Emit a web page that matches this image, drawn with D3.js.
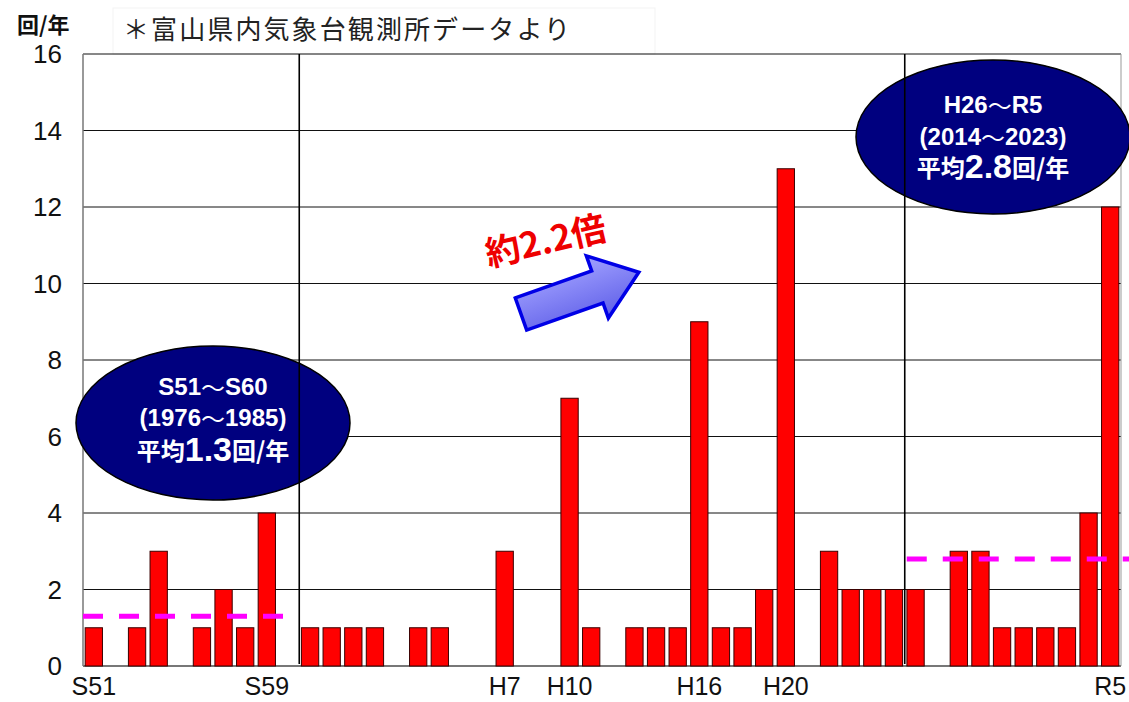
<!DOCTYPE html>
<html>
<head>
<meta charset="utf-8">
<script src="https://cdn.jsdelivr.net/npm/d3@7/dist/d3.min.js"></script>
<style>
  html, body { margin: 0; padding: 0; background: #fff; }
  svg { display: block; }
</style>
</head>
<body>
<svg id="chart" width="1129" height="702"></svg>
<script>
// Annual occurrences per year, 1976 (S51) to 2023 (R5)
const years = [
  1976, 1977, 1978, 1979, 1980, 1981, 1982, 1983, 1984, 1985,
  1986, 1987, 1988, 1989, 1990, 1991, 1992, 1993, 1994, 1995,
  1996, 1997, 1998, 1999, 2000, 2001, 2002, 2003, 2004, 2005,
  2006, 2007, 2008, 2009, 2010, 2011, 2012, 2013, 2014, 2015,
  2016, 2017, 2018, 2019, 2020, 2021, 2022, 2023
];
const counts = [
  1, 0, 1, 3, 0, 1, 2, 1, 4, 0,
  1, 1, 1, 1, 0, 1, 1, 0, 0, 3,
  0, 0, 7, 1, 0, 1, 1, 1, 9, 1,
  1, 2, 13, 0, 3, 2, 2, 2, 2, 0,
  3, 3, 1, 1, 1, 1, 4, 12
];

// x-axis labels (Japanese era years)
const tickYears  = [1976, 1984, 1995, 1998, 2004, 2008, 2023];
const tickLabels = ["S51", "S59", "H7", "H10", "H16", "H20", "R5"];

// y-axis ticks
const yTicks = [0, 2, 4, 6, 8, 10, 12, 14, 16];

// Ten-year comparison periods and their averages
const periodStart = [1976, 2014];
const periodEnd   = [1985, 2023];
const periodAvg   = [1.3, 2.8];
const periodEra   = [["S51", "S60"], ["H26", "R5"]];

const ratioLabel = "約2.2倍";
const unitLabel = "回/年";
const sourceNote = "＊富山県内気象台観測所データより";

const svg = d3.select("#chart");
const plotL = 83, plotR = 1121, plotT = 54, plotB = 666;

const x = d3.scaleBand()
  .domain(years)
  .range([plotL, plotR])
  .paddingInner(0.2)
  .paddingOuter(0.1);
const y = d3.scaleLinear().domain([0, 16]).range([plotB, plotT]);

const bandStart = yr => x(yr) - x.step() * x.paddingInner() / 2;
const bandEnd = yr => bandStart(yr) + x.step();

const latin = "'Liberation Sans', Arial, sans-serif";
const cjk = "'Noto Sans CJK JP', 'Noto Sans', sans-serif";

// faint frame behind the source note
svg.append("rect")
  .attr("x", 113).attr("y", 8).attr("width", 542).attr("height", 46)
  .attr("fill", "none").attr("stroke", "#f3f3f3").attr("stroke-width", 1);

// horizontal gridlines
svg.append("g").selectAll("line")
  .data(yTicks.filter(d => d > 0))
  .join("line")
  .attr("x1", plotL).attr("x2", plotR)
  .attr("y1", d => y(d)).attr("y2", d => y(d))
  .attr("stroke", "#111").attr("stroke-width", 1);

// plot frame: left, right, bottom
svg.append("line").attr("x1", plotL).attr("x2", plotL).attr("y1", plotT).attr("y2", plotB)
  .attr("stroke", "#777").attr("stroke-width", 1.5);
svg.append("line").attr("x1", plotR).attr("x2", plotR).attr("y1", plotT).attr("y2", plotB)
  .attr("stroke", "#999").attr("stroke-width", 1);
svg.append("line").attr("x1", plotL).attr("x2", plotR).attr("y1", plotB).attr("y2", plotB)
  .attr("stroke", "#777").attr("stroke-width", 2);

// y tick labels
svg.append("g").selectAll("text")
  .data(yTicks)
  .join("text")
  .attr("x", 62)
  .attr("y", d => y(d) + 9)
  .attr("text-anchor", "end")
  .attr("font-family", latin)
  .attr("font-size", 26)
  .attr("fill", "#111")
  .text(d => d);

// x tick labels
svg.append("g").selectAll("text")
  .data(tickYears)
  .join("text")
  .attr("x", d => x(d) + x.bandwidth() / 2)
  .attr("y", 695)
  .attr("text-anchor", "middle")
  .attr("font-family", latin)
  .attr("font-size", 25)
  .attr("fill", "#111")
  .text((d, i) => tickLabels[i]);

// bars
svg.append("g").selectAll("rect")
  .data(years.map((yr, i) => ({ yr, v: counts[i] })).filter(d => d.v > 0))
  .join("rect")
  .attr("x", d => x(d.yr))
  .attr("y", d => y(d.v))
  .attr("width", x.bandwidth())
  .attr("height", d => y(0) - y(d.v))
  .attr("fill", "#ff0000")
  .attr("stroke", "#3a0000")
  .attr("stroke-width", 1);

// period average lines
const avgEnds = [bandEnd(periodEnd[0]), plotR + 8];
svg.append("g").selectAll("line")
  .data(periodAvg)
  .join("line")
  .attr("x1", (d, i) => bandStart(periodStart[i]) + (i === 0 ? 0 : 2))
  .attr("x2", (d, i) => avgEnds[i])
  .attr("y1", d => y(d)).attr("y2", d => y(d))
  .attr("stroke", "#ff00ff")
  .attr("stroke-width", 5)
  .attr("stroke-dasharray", "20,16");

// period ellipses
const ellipses = [
  { cx: 213, cy: 423, lineY: [386, 417, 449] },
  { cx: 993, cy: 137, lineY: [104, 136, 166] }
];
const rangeLine = (txt, a, b) => {
  txt.append("tspan").attr("font-family", latin).text(a);
  txt.append("tspan").attr("font-family", cjk).attr("font-weight", "normal").text("～");
  txt.append("tspan").attr("font-family", latin).text(b);
};
ellipses.forEach((e, i) => {
  svg.append("ellipse")
    .attr("cx", e.cx).attr("cy", e.cy)
    .attr("rx", 137).attr("ry", 77)
    .attr("fill", "#00007f")
    .attr("stroke", "#000")
    .attr("stroke-width", 1.5);
  const g = svg.append("g")
    .attr("fill", "#fff")
    .attr("font-weight", "bold")
    .attr("font-size", 24)
    .attr("text-anchor", "middle");
  const t1 = g.append("text")
    .attr("x", e.cx).attr("y", e.lineY[0])
    .attr("dominant-baseline", "central");
  rangeLine(t1, periodEra[i][0], periodEra[i][1]);
  const t2 = g.append("text")
    .attr("x", e.cx).attr("y", e.lineY[1])
    .attr("dominant-baseline", "central");
  rangeLine(t2, "(" + periodStart[i], periodEnd[i] + ")");
  const t3 = g.append("text")
    .attr("x", e.cx).attr("y", e.lineY[2])
    .attr("dominant-baseline", "central")
    .attr("font-family", cjk);
  t3.append("tspan").text("平均");
  t3.append("tspan").attr("font-family", latin).attr("font-size", 34).text(periodAvg[i].toFixed(1));
  t3.append("tspan").text("回/年");
});

// period separators
svg.append("g").selectAll("line")
  .data([periodEnd[0] + 1, periodStart[1]])
  .join("line")
  .attr("x1", d => bandStart(d)).attr("x2", d => bandStart(d))
  .attr("y1", plotT).attr("y2", plotB - 2)
  .attr("stroke", "#000").attr("stroke-width", 1.6);

// trend arrow
const arrowLen = 125, shaftHalf = 17, headHalf = 33, headLen = 44;
const arrowPts = [
  [0, -shaftHalf], [arrowLen - headLen, -shaftHalf], [arrowLen - headLen, -headHalf],
  [arrowLen, 0],
  [arrowLen - headLen, headHalf], [arrowLen - headLen, shaftHalf], [0, shaftHalf]
];
const grad = svg.append("defs").append("linearGradient")
  .attr("id", "arrowFill").attr("x1", 0).attr("y1", 0).attr("x2", 0).attr("y2", 1);
grad.append("stop").attr("offset", 0).attr("stop-color", "#a0a0ff");
grad.append("stop").attr("offset", 1).attr("stop-color", "#6060e8");
svg.append("path")
  .attr("d", d3.line()(arrowPts) + "Z")
  .attr("transform", "translate(521,314) rotate(-19.5)")
  .attr("fill", "url(#arrowFill)")
  .attr("stroke", "#0000e6")
  .attr("stroke-width", 3.5)
  .attr("stroke-linejoin", "miter");

// ratio label
svg.append("text")
  .attr("transform", "translate(545,238) rotate(-13)")
  .attr("text-anchor", "middle")
  .attr("dominant-baseline", "central")
  .attr("font-family", cjk)
  .attr("font-weight", "bold")
  .attr("font-size", 35)
  .attr("fill", "#ee0000")
  .attr("stroke", "#fff")
  .attr("stroke-width", 3)
  .attr("paint-order", "stroke")
  .text(ratioLabel);

// unit and source note
svg.append("text")
  .attr("x", 17).attr("y", 23)
  .attr("dominant-baseline", "central")
  .attr("font-family", cjk)
  .attr("font-weight", "bold")
  .attr("font-size", 22)
  .attr("fill", "#111")
  .text(unitLabel);
svg.append("text")
  .attr("x", 123).attr("y", 27)
  .attr("dominant-baseline", "central")
  .attr("font-family", cjk)
  .attr("font-size", 26)
  .attr("textLength", 447)
  .attr("lengthAdjust", "spacing")
  .attr("fill", "#222")
  .text(sourceNote);
</script>
</body>
</html>
